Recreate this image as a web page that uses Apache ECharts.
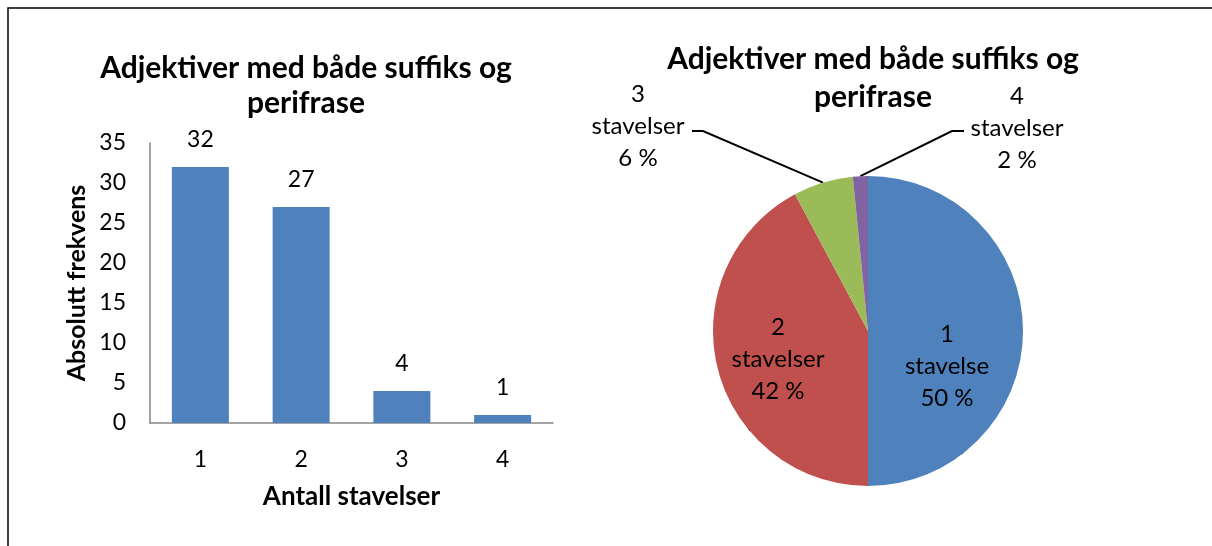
<!DOCTYPE html>
<html>
<head>
<meta charset="utf-8">
<script src="https://cdn.jsdelivr.net/npm/echarts@6/dist/echarts.min.js"></script>
<style>
  html, body { margin: 0; background: #fff; }
  #chart { width: 1212px; height: 546px; }
</style>
</head>
<body>
<div id="chart"></div>
<script>
const categories = ['1', '2', '3', '4'];
const counts = [32, 27, 4, 1];
const pieNames = ['1\nstavelse', '2\nstavelser', '3\nstavelser', '4\nstavelser'];
const yMin = 0, yMax = 35, yStep = 5;
const titleText = 'Adjektiver med både suffiks og\nperifrase';

const barColor = '#4F81BD';
const pieColors = ['#4F81BD', '#C0504D', '#9BBB59', '#8064A2'];
const font = 'Lato';

// where the pie labels sit (centre of each text block) and the bend of the leader lines
const pieLabelPos = [[947, 366], [778, 359], [638, 126], [1017, 128]];
const pieLineBend = [null, null, [[703, 131], [692, 131]], [[952, 131], [964, 131]]];

const chart = echarts.init(document.getElementById('chart'));

const axisLine = { show: true, lineStyle: { color: '#868686', width: 1.5 } };
const titleStyle = { fontFamily: font, fontSize: 30, fontWeight: 'bold', lineHeight: 35, color: '#000' };

chart.setOption({
  textStyle: { fontFamily: font, color: '#000' },
  animation: false,
  title: [
    { text: titleText, left: 301, top: 46, textAlign: 'center', textStyle: titleStyle },
    { text: titleText, left: 868, top: 35, textAlign: 'center', textStyle: { ...titleStyle, lineHeight: 38 } }
  ],
  graphic: [{
    type: 'polyline', silent: true,
    shape: { points: [[8, 560], [8, 8], [1230, 8]] },
    style: { stroke: '#000', lineWidth: 1.5, fill: null }
  }],
  grid: { left: 150, right: 659, top: 143, bottom: 123 },
  xAxis: {
    type: 'category', data: categories,
    axisLine, axisTick: { show: false },
    axisLabel: { fontSize: 23, margin: 25, color: '#000' },
    name: 'Antall stavelser', nameLocation: 'middle', nameGap: 61,
    nameTextStyle: { fontSize: 26, fontWeight: 'bold', color: '#000' }
  },
  yAxis: {
    type: 'value', min: yMin, max: yMax, interval: yStep,
    axisLine, axisTick: { show: false }, splitLine: { show: false },
    axisLabel: { fontSize: 23, margin: 24, color: '#000' },
    name: 'Absolutt frekvens', nameLocation: 'middle', nameGap: 61, nameRotate: 90,
    nameTextStyle: { fontSize: 25, fontWeight: 'bold', color: '#000' }
  },
  series: [
    {
      type: 'bar', data: counts, barWidth: 57,
      itemStyle: { color: barColor },
      label: { show: true, position: 'top', distance: 16, fontSize: 23, color: '#000' }
    },
    {
      type: 'pie', center: [868, 331], radius: 155,
      startAngle: 90, clockwise: true,
      data: pieNames.map((name, i) => ({
        name, value: counts[i],
        itemStyle: { color: pieColors[i] },
        label: { position: i < 2 ? 'inside' : 'outside' }
      })),
      label: {
        show: true, fontSize: 24, lineHeight: 32, color: '#000', align: 'center',
        formatter: p => p.name + '\n' + Math.round(p.percent) + ' %'
      },
      labelLine: { show: true, length: 20, length2: 10, lineStyle: { color: '#000', width: 2 } },
      labelLayout: p => {
        const pos = pieLabelPos[p.dataIndex];
        const out = { x: pos[0], y: pos[1], align: 'center', verticalAlign: 'middle' };
        const bend = pieLineBend[p.dataIndex];
        if (bend && p.labelLinePoints) out.labelLinePoints = [p.labelLinePoints[0]].concat(bend);
        return out;
      }
    }
  ]
});
</script>
</body>
</html>
